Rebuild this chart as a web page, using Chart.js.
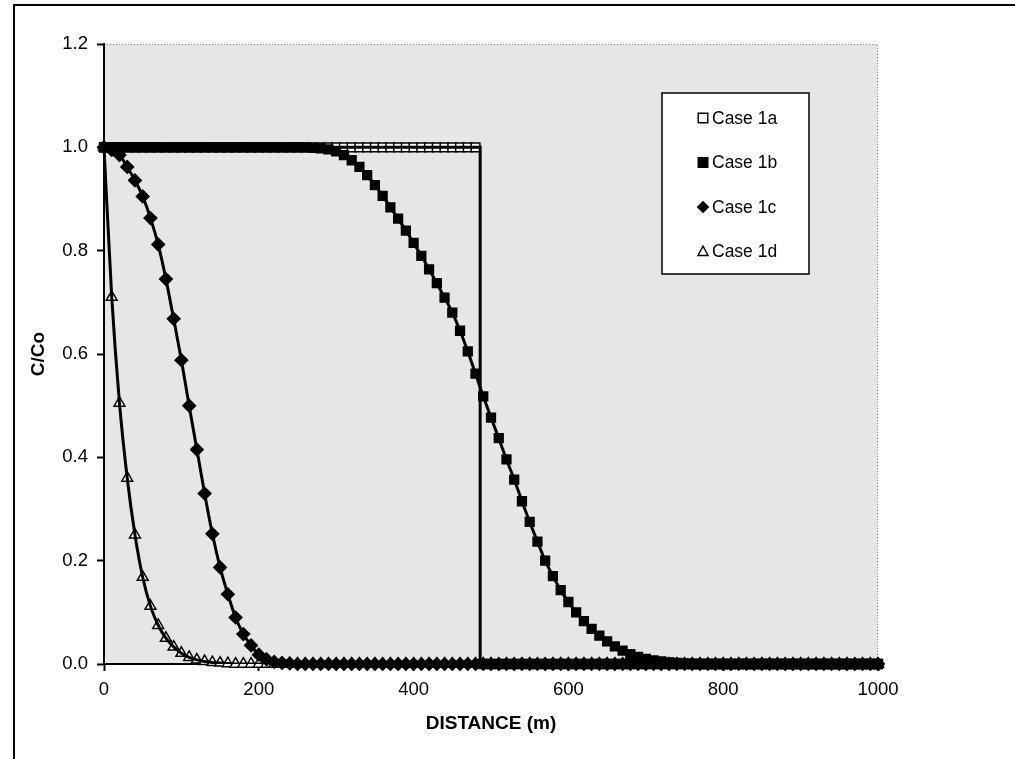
<!DOCTYPE html>
<html>
<head>
<meta charset="utf-8">
<script src="https://cdn.jsdelivr.net/npm/chart.js@4.4.0/dist/chart.umd.min.js"></script>
<style>
html, body { margin: 0; padding: 0; background: #fff; }
</style>
</head>
<body>
<canvas id="myChart" width="1015" height="759"></canvas>
<script>
// distance along the column (m), one marker every 10 m
var distance = [
  0, 10, 20, 30, 40, 50, 60, 70, 80, 90,
  100, 110, 120, 130, 140, 150, 160, 170, 180, 190,
  200, 210, 220, 230, 240, 250, 260, 270, 280, 290,
  300, 310, 320, 330, 340, 350, 360, 370, 380, 390,
  400, 410, 420, 430, 440, 450, 460, 470, 480, 490,
  500, 510, 520, 530, 540, 550, 560, 570, 580, 590,
  600, 610, 620, 630, 640, 650, 660, 670, 680, 690,
  700, 710, 720, 730, 740, 750, 760, 770, 780, 790,
  800, 810, 820, 830, 840, 850, 860, 870, 880, 890,
  900, 910, 920, 930, 940, 950, 960, 970, 980, 990,
  1000
];

// C/Co
var case1a = [
  1, 1, 1, 1, 1, 1, 1, 1, 1, 1,
  1, 1, 1, 1, 1, 1, 1, 1, 1, 1,
  1, 1, 1, 1, 1, 1, 1, 1, 1, 1,
  1, 1, 1, 1, 1, 1, 1, 1, 1, 1,
  1, 1, 1, 1, 1, 1, 1, 1, 1, 0,
  0, 0, 0, 0, 0, 0, 0, 0, 0, 0,
  0, 0, 0, 0, 0, 0, 0, 0, 0, 0,
  0, 0, 0, 0, 0, 0, 0, 0, 0, 0,
  0, 0, 0, 0, 0, 0, 0, 0, 0, 0,
  0, 0, 0, 0, 0, 0, 0, 0, 0, 0,
  0
];
var case1b = [
  1, 1, 1, 1, 1, 1, 1, 1, 1, 1,
  1, 1, 1, 1, 1, 1, 1, 1, 1, 1,
  1, 1, 1, 1, 1, 1, 1, 0.999, 0.998, 0.996,
  0.992, 0.985, 0.975, 0.962, 0.946, 0.927, 0.906, 0.884, 0.862, 0.839,
  0.815, 0.79, 0.764, 0.737, 0.709, 0.68, 0.645, 0.605, 0.562, 0.518,
  0.477, 0.437, 0.396, 0.357, 0.315, 0.275, 0.237, 0.2, 0.17, 0.143,
  0.12, 0.1, 0.083, 0.068, 0.055, 0.044, 0.034, 0.026, 0.019, 0.014,
  0.01, 0.007, 0.005, 0.003, 0.002, 0.001, 0, 0, 0, 0,
  0, 0, 0, 0, 0, 0, 0, 0, 0, 0,
  0, 0, 0, 0, 0, 0, 0, 0, 0, 0,
  0
];
var case1c = [
  1, 0.995, 0.985, 0.962, 0.936, 0.905, 0.863, 0.812, 0.745, 0.668,
  0.588, 0.5, 0.415, 0.33, 0.252, 0.187, 0.135, 0.09, 0.058, 0.036,
  0.018, 0.009, 0.004, 0.002, 0.001, 0, 0, 0, 0, 0,
  0, 0, 0, 0, 0, 0, 0, 0, 0, 0,
  0, 0, 0, 0, 0, 0, 0, 0, 0, 0,
  0, 0, 0, 0, 0, 0, 0, 0, 0, 0,
  0, 0, 0, 0, 0, 0, 0, 0, 0, 0,
  0, 0, 0, 0, 0, 0, 0, 0, 0, 0,
  0, 0, 0, 0, 0, 0, 0, 0, 0, 0,
  0, 0, 0, 0, 0, 0, 0, 0, 0, 0,
  0
];
var case1d = [
  1, 0.71, 0.505, 0.36, 0.25, 0.168, 0.112, 0.075, 0.05, 0.033,
  0.021, 0.013, 0.008, 0.005, 0.003, 0.002, 0.001, 0, 0, 0,
  0, 0, 0, 0, 0, 0, 0, 0, 0, 0,
  0, 0, 0, 0, 0, 0, 0, 0, 0, 0,
  0, 0, 0, 0, 0, 0, 0, 0, 0, 0,
  0, 0, 0, 0, 0, 0, 0, 0, 0, 0,
  0, 0, 0, 0, 0, 0, 0, 0, 0, 0,
  0, 0, 0, 0, 0, 0, 0, 0, 0, 0,
  0, 0, 0, 0, 0, 0, 0, 0, 0, 0,
  0, 0, 0, 0, 0, 0, 0, 0, 0, 0,
  0
];

// analytical step front for case 1a
var stepDistance = [0, 486, 486, 1000];
var stepValue = [1, 1, 0, 0];

var caseLabels = ['Case 1a', 'Case 1b', 'Case 1c', 'Case 1d'];

var FONT = '"Liberation Sans", Arial, sans-serif';

function toPoints(xs, ys) {
  return xs.map(function (x, i) { return { x: x, y: ys[i] }; });
}

function markerSet(label, ys, style, fill, order) {
  return {
    label: label,
    data: toPoints(distance, ys),
    showLine: false,
    pointStyle: style,
    pointRadius: style === 'rect' ? 6.2 : 6.3,
    pointBackgroundColor: fill,
    pointBorderColor: '#000',
    pointBorderWidth: 1.5,
    clip: false,
    order: order
  };
}

function lineSet(xs, ys, mode) {
  return {
    label: '',
    data: toPoints(xs, ys),
    showLine: true,
    pointRadius: 0,
    borderColor: '#000',
    borderWidth: 3,
    cubicInterpolationMode: mode,
    tension: 0,
    fill: false,
    order: 0
  };
}

// grey plot area and outer frame
var paperPlugin = {
  id: 'paper',
  beforeDraw: function (chart) {
    var ctx = chart.ctx, a = chart.chartArea;
    ctx.save();
    ctx.fillStyle = '#fff';
    ctx.fillRect(0, 0, chart.width, chart.height);
    ctx.strokeStyle = '#000';
    ctx.lineWidth = 2;
    ctx.beginPath();
    ctx.moveTo(14, chart.height);
    ctx.lineTo(14, 5);
    ctx.lineTo(chart.width, 5);
    ctx.stroke();
    ctx.fillStyle = '#e6e6e6';
    ctx.fillRect(a.left, a.top, a.right - a.left, a.bottom - a.top);
    ctx.strokeStyle = '#8a8a8a';
    ctx.lineWidth = 1;
    ctx.setLineDash([1, 2]);
    ctx.beginPath();
    ctx.moveTo(a.left, a.top + 0.5);
    ctx.lineTo(a.right - 0.5, a.top + 0.5);
    ctx.lineTo(a.right - 0.5, a.bottom);
    ctx.stroke();
    ctx.restore();
  }
};

function drawMark(ctx, style, fill, x, y, r) {
  ctx.beginPath();
  if (style === 'rect') {
    ctx.rect(x - r, y - r, 2 * r, 2 * r);
  } else if (style === 'rectRot') {
    ctx.moveTo(x, y - r); ctx.lineTo(x + r, y); ctx.lineTo(x, y + r); ctx.lineTo(x - r, y);
    ctx.closePath();
  } else {
    ctx.moveTo(x, y - r); ctx.lineTo(x + r * 0.95, y + r * 0.75); ctx.lineTo(x - r * 0.95, y + r * 0.75);
    ctx.closePath();
  }
  ctx.fillStyle = fill;
  ctx.fill();
  ctx.strokeStyle = '#000';
  ctx.lineWidth = 1.4;
  ctx.stroke();
}

// legend box inside the plot
var boxLegend = {
  id: 'boxLegend',
  afterDraw: function (chart) {
    var ctx = chart.ctx;
    var bx = 662, by = 93, bw = 147, bh = 181;
    ctx.save();
    ctx.fillStyle = '#fff';
    ctx.fillRect(bx, by, bw, bh);
    ctx.strokeStyle = '#000';
    ctx.lineWidth = 1.5;
    ctx.strokeRect(bx, by, bw, bh);
    ctx.font = '17.5px ' + FONT;
    ctx.textBaseline = 'middle';
    chart.data.datasets.forEach(function (ds) {
      var i = caseLabels.indexOf(ds.label);
      if (i < 0) return;
      var y = by + 25 + i * 44.5;
      drawMark(ctx, ds.pointStyle, ds.pointBackgroundColor, 703, y, ds.pointStyle === 'rect' ? 4.8 : 5.3);
      ctx.fillStyle = '#000';
      ctx.fillText(ds.label, 712, y + 1);
    });
    ctx.restore();
  }
};

var ctx = document.getElementById('myChart').getContext('2d');

var chart = new Chart(ctx, {
  type: 'scatter',
  data: {
    datasets: [
      lineSet(stepDistance, stepValue, 'default'),
      lineSet(distance, case1b, 'monotone'),
      lineSet(distance, case1c, 'monotone'),
      lineSet(distance, case1d, 'monotone'),
      markerSet(caseLabels[2], case1c, 'rectRot', '#000', 1),
      markerSet(caseLabels[1], case1b, 'rect', '#000', 2),
      markerSet(caseLabels[3], case1d, 'triangle', '#fff', 3),
      markerSet(caseLabels[0], case1a, 'rect', '#fff', 4)
    ]
  },
  options: {
    responsive: false,
    animation: false,
    events: [],
    layout: { padding: { left: 20, right: 137, top: 44, bottom: 0 } },
    plugins: {
      legend: { display: false },
      tooltip: { enabled: false }
    },
    scales: {
      x: {
        type: 'linear',
        min: 0,
        max: 1000,
        afterFit: function (s) { s.height = 95; },
        ticks: {
          stepSize: 200,
          color: '#000',
          padding: 8,
          font: { family: FONT, size: 18.5 },
          callback: function (v) { return String(v); }
        },
        grid: { drawOnChartArea: false, drawTicks: true, tickLength: 7, tickWidth: 2, tickColor: '#000' },
        border: { display: true, color: '#000', width: 2 },
        title: {
          display: true,
          text: 'DISTANCE (m)',
          color: '#000',
          padding: { top: 0, bottom: 24 },
          font: { family: FONT, size: 19, weight: 'bold' }
        }
      },
      y: {
        min: 0,
        max: 1.2,
        afterFit: function (s) { s.width = 84; },
        ticks: {
          stepSize: 0.2,
          color: '#000',
          padding: 9,
          font: { family: FONT, size: 18.5 },
          callback: function (v) { return v.toFixed(1); }
        },
        grid: { drawOnChartArea: false, drawTicks: true, tickLength: 7, tickWidth: 2, tickColor: '#000' },
        border: { display: true, color: '#000', width: 2 },
        title: {
          display: true,
          text: 'C/Co',
          color: '#000',
          padding: { top: 7, bottom: 0 },
          font: { family: FONT, size: 19, weight: 'bold' }
        }
      }
    }
  },
  plugins: [paperPlugin, boxLegend]
});
</script>
</body>
</html>
